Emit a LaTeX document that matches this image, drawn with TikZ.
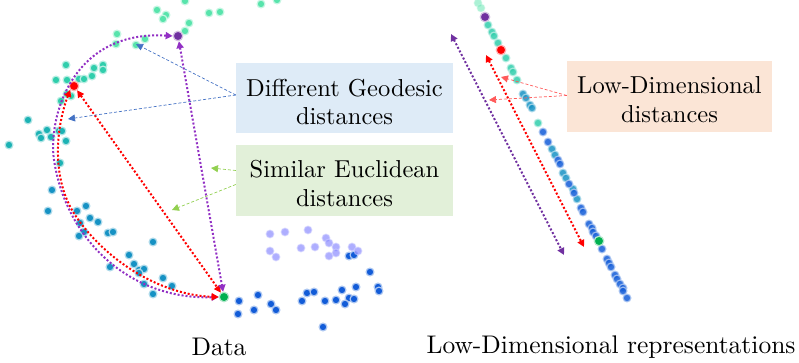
\documentclass[tikz,border=0pt]{standalone}
\usepackage{fontspec}
\setmainfont{lmroman10-regular.otf}
\usepackage{tikz}
\usetikzlibrary{arrows.meta,positioning,calc}
\definecolor{DotMint}{RGB}{88,228,172}
\definecolor{DotAqua}{RGB}{48,206,172}
\definecolor{DotTeal}{RGB}{28,178,180}
\definecolor{DotCyan}{RGB}{22,146,196}
\definecolor{DotBlue}{RGB}{18,92,216}
\definecolor{DotLilac}{RGB}{120,120,255}
\definecolor{KeyPurple}{RGB}{112,48,160}
\definecolor{KeyRed}{RGB}{255,0,0}
\definecolor{KeyGreen}{RGB}{0,176,80}
\definecolor{ArcPurple}{RGB}{146,48,196}
\definecolor{NoteBlue}{RGB}{68,114,196}
\definecolor{NoteGreen}{RGB}{146,208,80}
\definecolor{NoteRed}{RGB}{255,90,90}
\definecolor{BoxBlue}{RGB}{222,235,247}
\definecolor{BoxGreen}{RGB}{226,240,217}
\definecolor{BoxPeach}{RGB}{251,229,214}
\newcommand{\boxfont}{\fontsize{24.5}{28.5}\selectfont}
\newcommand{\captfont}{\fontsize{25.5}{30}\selectfont}

\begin{document}
\begin{tikzpicture}[>={Triangle[length=7pt,width=7pt]},x=1pt,y=-1pt,
  sample/.style={fill=#1,draw=#1!35,line width=1.2pt},
  keypt/.style={circle,fill=#1,draw=#1!30,line width=1.2pt,inner sep=0pt,minimum size=9.5pt},
  geo/.style={#1,line width=2pt,dash pattern=on 2pt off 2pt,<->},
  note/.style={#1,line width=0.7pt,dash pattern=on 3pt off 2pt,->},
  infobox/.style={fill=#1,minimum width=217pt,minimum height=70pt},
  boxtext/.style={align=center,font=\boxfont,inner sep=0pt}]
  \useasboundingbox (0,0) rectangle (799,363);

  % data cloud
  \foreach \x/\y in {185/1,261/4,277/0,157/10,166/15,163/19,209/13,220/12,189/23,185/31,
                     117/34,145/39,116/44,136/45}
    \filldraw[sample=DotMint] (\x,\y) circle (3.9);
  \foreach \x/\y in {66/65,103/65,103/70,94/68,92/76,56/80,67/80,79/79,84/79,71/96,67/94,61/101}
    \filldraw[sample=DotAqua] (\x,\y) circle (3.9);
  \foreach \x/\y in {28/120,47/130,39/134,41/138,51/137,59/131,62/131,66/141,9/145,60/163}
    \filldraw[sample=DotTeal] (\x,\y) circle (3.9);
  \foreach \x/\y in {52/190,48/211,86/206,77/211,90/218,98/222,80/223,84/232,79/236,108/233,113/232,
                     153/242,129/255,134/264,110/267,139/270,144/269,139/273,163/278,144/284,172/286,153/294}
    \filldraw[sample=DotCyan] (\x,\y) circle (3.9);
  \foreach \x/\y in {239/301,258/295,238/314,254/310,271/304,276/310,302/301,307/293,314/292,325/301,
                     336/300,342/290,356/287,349/298,354/299,345/304,370/272,378/287,379/291,323/327,
                     349/256,354/255}
    \filldraw[sample=DotBlue] (\x,\y) circle (3.9);
  \foreach \x/\y in {270/234,285/232,308/230,326/238,329/243,270/251,276/257,301/248,315/247,
                     336/247,336/253,329/256,352/247,358/251}
    \filldraw[sample=DotLilac,opacity=0.6] (\x,\y) circle (3.9);

  % embedding strip
  \foreach \x/\y in {478/3,481/8}
    \filldraw[sample=DotMint,opacity=0.5] (\x,\y) circle (3.9);
  \foreach \x/\y in {488/25,492/32,494/36,498/43,506/58,511/68,513/72,517/80,538/123}
    \filldraw[sample=DotAqua,opacity=0.85] (\x,\y) circle (3.9);
  \foreach \x/\y in {523/94,526/98,530/105,532/108,552/149,555/155,563/173,566/178,573/189,577/199}
    \filldraw[sample=DotCyan,opacity=0.85] (\x,\y) circle (3.9);
  \foreach \x/\y in {543/132,548/142,558/160,560/164,569/184,574/193,581/208,583/212,589/224,592/228,
                     593/232,596/236,602/249,607/259,609/263,611/267,615/275,617/279,620/284,623/288,
                     623/291,627/298}
    \filldraw[sample=DotBlue,opacity=0.85] (\x,\y) circle (3.9);

  \node[keypt=KeyPurple] (P) at (178,36) {};
  \node[keypt=KeyRed] (R) at (74,86) {};
  \node[keypt=KeyGreen] (G) at (224,297) {};
  \node[keypt=KeyPurple] (Pr) at (485,17) {};
  \node[keypt=KeyRed] (Rr) at (501,50) {};
  \node[keypt=KeyGreen] (Gr) at (599,241) {};

  % geodesic and straight distances
  \draw[geo=ArcPurple] (P.west) .. controls (70,30) and (48,120) .. (54,160)
                                .. controls (66,240) and (130,300) .. (G.west);
  \draw[geo=KeyRed] (R.south west) .. controls (55,130) and (52,180) .. (75,215)
                                   .. controls (105,260) and (160,295) .. (G.west);
  \draw[geo=KeyRed] (R) -- (G);
  \draw[geo=ArcPurple] (P) -- (G);

  \coordinate (pa) at (451,34);
  \coordinate (pb) at (564,255);
  \coordinate (ra) at (486,55);
  \coordinate (rb) at (584,247);
  \draw[geo=KeyPurple] (pa) -- (pb);
  \draw[geo=KeyRed] (ra) -- (rb);

  % call-outs
  \node[infobox=BoxBlue] (geodesic) at (344.5,98) {};
  \node[infobox=BoxGreen] (euclid) at (344.5,180.5) {};
  \node[infobox=BoxPeach,minimum width=205pt,minimum height=71pt] (lowdim) at (669.5,96.5) {};
  \node[boxtext] (geotxt) at ([yshift=-4pt]geodesic.center) {Different Geodesic\\distances};
  \node[boxtext] (euctxt) at ([yshift=-3pt]euclid.center) {Similar Euclidean\\distances};
  \node[boxtext] (lowtxt) at ([yshift=-3pt]lowdim.center) {Low-Dimensional\\distances};

  \coordinate (g1) at (136,44);
  \coordinate (g2) at (68,119);
  \coordinate (e1) at (211,168);
  \coordinate (e2) at (172,210);
  \coordinate (l1) at (501,77);
  \coordinate (l2) at (489,100);
  \draw[note=NoteBlue] ([yshift=3pt]geodesic.west) -- (g1);
  \draw[note=NoteBlue] ([yshift=3pt]geodesic.west) -- (g2);
  \draw[note=NoteGreen] ([yshift=10pt]euclid.west) -- (e1);
  \draw[note=NoteGreen] ([yshift=-4pt]euclid.west) -- (e2);
  \draw[note=NoteRed] ([yshift=1pt]lowdim.west) -- (l1);
  \draw[note=NoteRed] ([yshift=1pt]lowdim.west) -- (l2);

  \node[font=\captfont] (datalbl) at (219,347) {Data};
  \node[font=\captfont] (reprlbl) at (611,347) {Low-Dimensional representations};
\end{tikzpicture}
\end{document}
